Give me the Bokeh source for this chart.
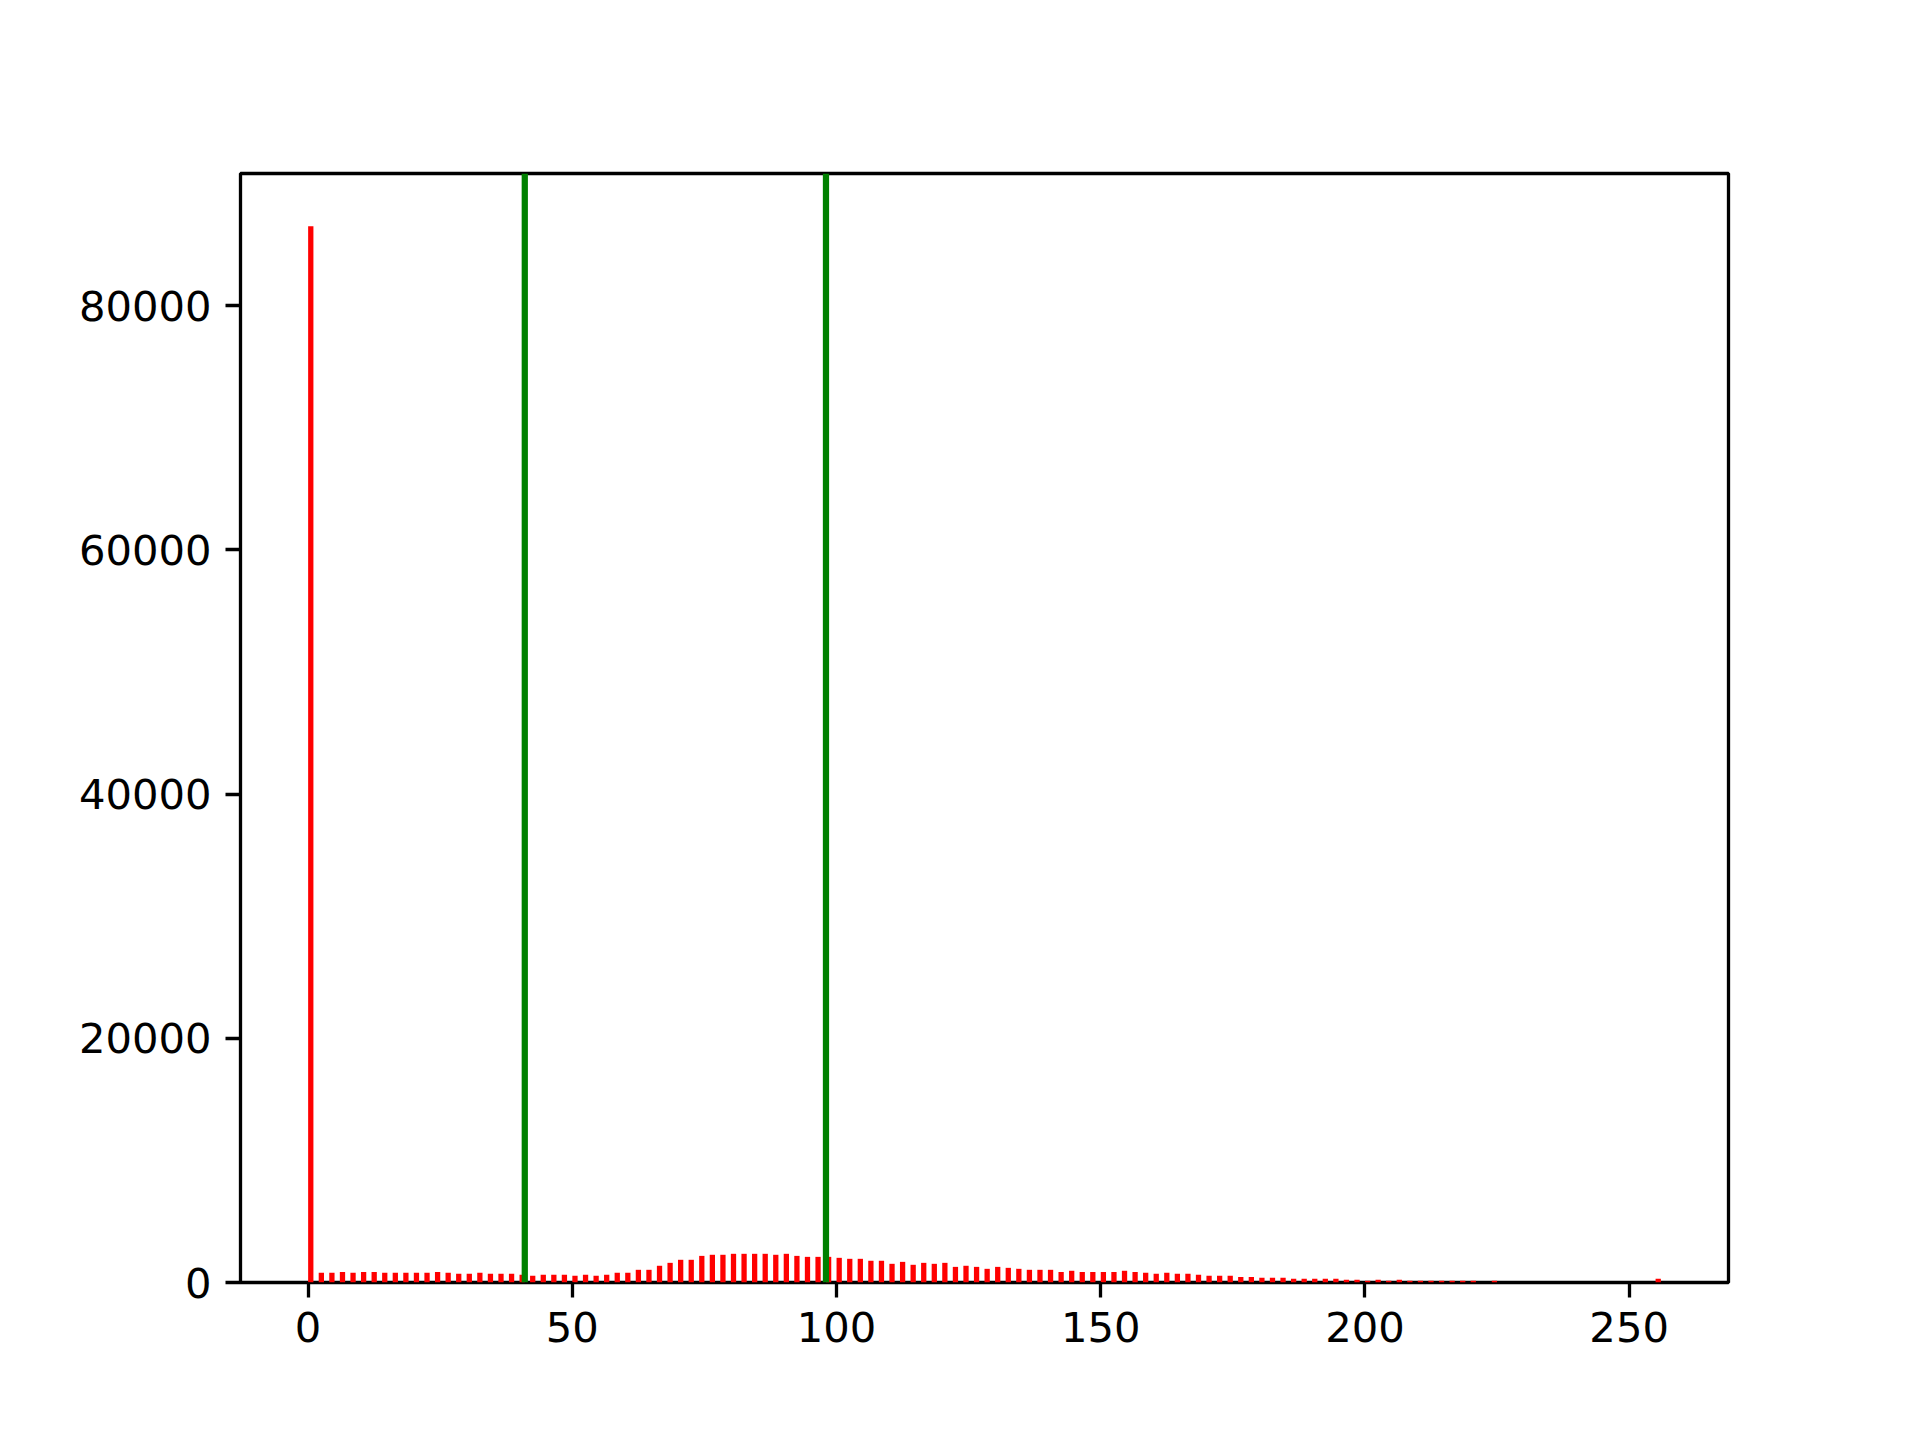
from bokeh.plotting import figure
from bokeh.models import Range1d, FixedTicker, Span, ColumnDataSource, BasicTickFormatter
from bokeh.embed import file_html
from bokeh.resources import INLINE

# Pixel intensity values (bin left edges) and their counts
pixel_values = [0, 2, 4, 6, 8, 10, 12, 14, 16, 18, 20, 22, 24, 26, 28, 30, 32, 34, 36, 38,
                40, 42, 44, 46, 48, 50, 52, 54, 56, 58, 60, 62, 64, 66, 68, 70, 72, 74, 76, 78,
                80, 82, 84, 86, 88, 90, 92, 94, 96, 98, 100, 102, 104, 106, 108, 110, 112, 114,
                116, 118, 120, 122, 124, 126, 128, 130, 132, 134, 136, 138, 140, 142, 144, 146,
                148, 150, 152, 154, 156, 158, 160, 162, 164, 166, 168, 170, 172, 174, 176, 178,
                180, 182, 184, 186, 188, 190, 192, 194, 196, 198, 200, 202, 204, 206, 208, 210,
                212, 214, 216, 218, 220, 222, 224, 226, 228, 230, 232, 234, 236, 238, 240, 242,
                244, 246, 248, 250, 252, 254, 255]
counts = [86500, 790, 790, 870, 790, 870, 870, 790, 790, 790, 790, 790, 870, 790, 710, 710, 790, 710, 710, 710,
          630, 550, 630, 630, 630, 550, 630, 550, 630, 790, 790, 1040, 1040, 1370, 1610, 1860, 1860, 2180, 2270, 2270,
          2350, 2350, 2350, 2350, 2270, 2350, 2180, 2100, 2100, 2100, 2020, 1940, 1940, 1780, 1780, 1530, 1690, 1450,
          1610, 1530, 1610, 1280, 1370, 1280, 1120, 1280, 1200, 1120, 1040, 1040, 1040, 870, 960, 870,
          870, 870, 870, 960, 870, 790, 710, 790, 710, 710, 630, 550, 550, 550, 460, 460,
          380, 380, 380, 300, 300, 300, 300, 300, 220, 220, 140, 220, 140, 220, 140, 140,
          140, 140, 140, 140, 140, 0, 140, 0, 0, 0, 0, 0, 0, 0, 0, 0,
          0, 0, 0, 0, 0, 0, 300]
thresholds = [41, 98]
x_ticks = [0, 50, 100, 150, 200, 250]
y_ticks = [0, 20000, 40000, 60000, 80000]

bin_width = 1
centers = [v + bin_width / 2 for v in pixel_values]
src = ColumnDataSource(data=dict(x=centers, top=counts))

x_lo, x_hi = 0, 256
pad = 0.05 * (x_hi - x_lo)
y_hi = max(counts) * 1.05

W, H = 1900, 1420
p = figure(width=W, height=H, output_backend="svg", toolbar_location=None,
           x_range=Range1d(x_lo - pad, x_hi + pad), y_range=Range1d(0, y_hi),
           min_border_left=240, min_border_right=W - 1728,
           min_border_top=173, min_border_bottom=H - 1282)

p.vbar(x="x", top="top", width=bin_width, bottom=0, source=src,
       fill_color="#ff0000", line_color=None)

for t in thresholds:
    p.add_layout(Span(location=t, dimension="height", line_color="#008000", line_width=6.25))

p.xgrid.grid_line_color = None
p.ygrid.grid_line_color = None
p.outline_line_color = "black"
p.outline_line_width = 3.3
p.background_fill_color = "white"
p.border_fill_color = "white"

p.xaxis.ticker = FixedTicker(ticks=x_ticks)
p.yaxis.ticker = FixedTicker(ticks=y_ticks)
p.yaxis.formatter = BasicTickFormatter(use_scientific=False)
for ax in (p.xaxis, p.yaxis):
    ax.axis_line_color = None
    ax.major_tick_line_color = "black"
    ax.major_tick_line_width = 3.3
    ax.major_tick_out = 15
    ax.major_tick_in = 0
    ax.minor_tick_line_color = None
    ax.major_label_text_font = "DejaVu Sans"
    ax.major_label_text_font_size = "41.7px"
    ax.major_label_text_color = "black"
    ax.major_label_standoff = 14

open("out.html", "w").write(file_html(p, INLINE))
